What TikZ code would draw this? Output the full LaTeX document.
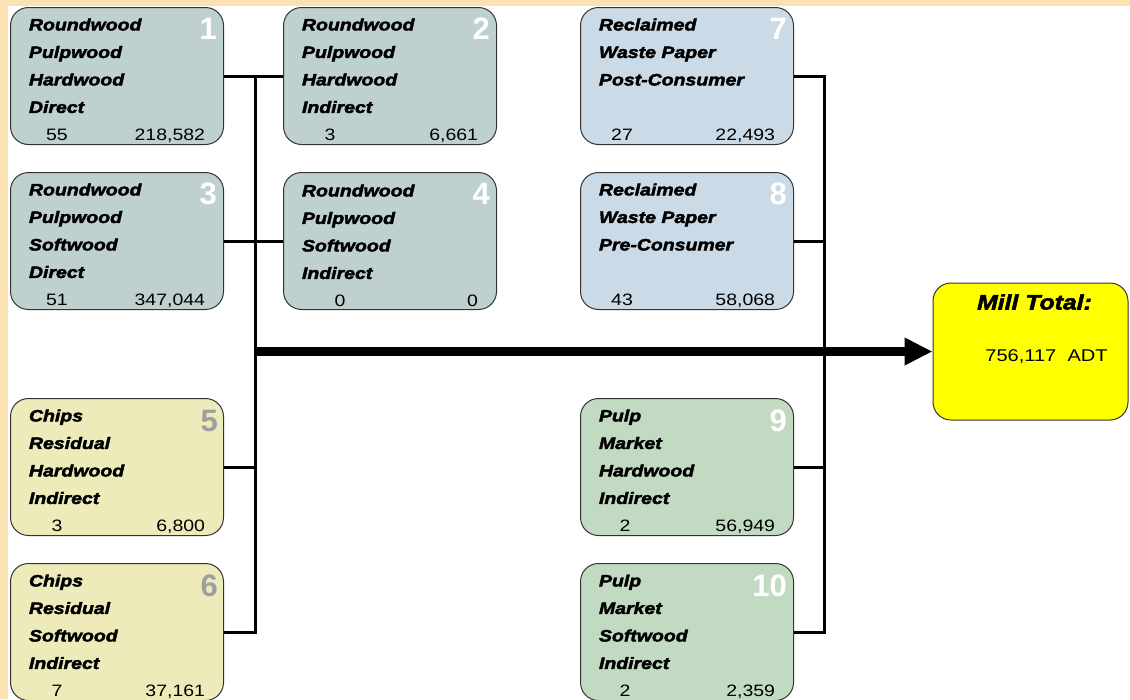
\documentclass[tikz,border=0pt]{standalone}
\usepackage{fontspec}
\setmainfont{Liberation Sans}
\newfontfamily\labelfont[FakeStretch=1.18, BoldItalicFeatures={FakeBold=2.5}]{Liberation Sans}
\usetikzlibrary{arrows.meta,positioning}

\definecolor{bandtan}{RGB}{250,226,178}
\definecolor{rwfill}{RGB}{190,208,208}
\definecolor{wpfill}{RGB}{202,218,230}
\definecolor{chfill}{RGB}{238,235,186}
\definecolor{pmfill}{RGB}{194,218,194}
\definecolor{millyellow}{RGB}{255,255,0}

\begin{document}
\begin{tikzpicture}[x=1pt, y=1pt,
  src/.style={draw=black!80, line width=1pt, rounded corners=18pt, minimum width=213pt, minimum height=137pt, text width=176pt, align=left, inner sep=0pt, font=\labelfont\bfseries\itshape\fontsize{16.5}{27.5}\selectfont, execute at begin node={\rule{0pt}{21pt}}},
  tag/.style={anchor=north east, inner sep=0pt, font=\bfseries\fontsize{31}{31}\selectfont, text=white},
  chiptag/.style={tag, text=black!38},
  link/.style={line width=3pt},
  flow/.style={-{Triangle[length=28pt,width=26pt]}, line width=9pt}
]
\useasboundingbox (0,0) rectangle (1130,-699);
\fill[white] (0,0) rectangle (1130,-699);
\fill[bandtan] (0,0) rectangle (1130,-6);
\fill[bandtan] (0,0) rectangle (8,-699);

% roundwood
\node[src, fill=rwfill, anchor=north west] (rwhd) at (10,-7) {Roundwood\\Pulpwood\\Hardwood\\Direct\\{\mdseries\upshape\makebox[56pt]{55}\hfill 218,582}};
\node[src, fill=rwfill, right=59pt of rwhd] (rwhi) {Roundwood\\Pulpwood\\Hardwood\\Indirect\\{\mdseries\upshape\makebox[56pt]{3}\hfill 6,661\hspace*{10pt}}};
\node[src, fill=rwfill, below=27pt of rwhd] (rwsd) {Roundwood\\Pulpwood\\Softwood\\Direct\\{\mdseries\upshape\makebox[56pt]{51}\hfill 347,044}};
\node[src, fill=rwfill, right=59pt of rwsd] (rwsi) {Roundwood\\Pulpwood\\Softwood\\Indirect\\{\mdseries\upshape\makebox[76pt]{0}\hfill 0\hspace*{30pt}}};

% chips
\node[src, fill=chfill, below=88pt of rwsd] (chhi) {Chips\\Residual\\Hardwood\\Indirect\\{\mdseries\upshape\makebox[56pt]{3}\hfill 6,800\hspace*{10pt}}};
\node[src, fill=chfill, below=27pt of chhi] (chsi) {Chips\\Residual\\Softwood\\Indirect\\{\mdseries\upshape\makebox[56pt]{7}\hfill 37,161\hspace*{10pt}}};

% waste paper
\node[src, fill=wpfill, right=83pt of rwhi] (wppost) {Reclaimed\\Waste Paper\\Post-Consumer\\[27.5pt]{\mdseries\upshape\makebox[46pt]{27}\hfill 22,493\hspace*{10pt}}};
\node[src, fill=wpfill, below=27pt of wppost] (wppre) {Reclaimed\\Waste Paper\\Pre-Consumer\\[27.5pt]{\mdseries\upshape\makebox[46pt]{43}\hfill 58,068\hspace*{6pt}}};

% pulp
\node[src, fill=pmfill, below=88pt of wppre] (pmhi) {Pulp\\Market\\Hardwood\\Indirect\\{\mdseries\upshape\makebox[52pt]{2}\hfill 56,949\hspace*{6pt}}};
\node[src, fill=pmfill, below=27pt of pmhi] (pmsi) {Pulp\\Market\\Softwood\\Indirect\\{\mdseries\upshape\makebox[52pt]{2}\hfill 2,359\hspace*{12pt}}};

% box numbers
\node[tag] (tag1) at ([xshift=-7pt,yshift=-11pt]rwhd.north east) {1};
\node[tag] (tag2) at ([xshift=-7pt,yshift=-11pt]rwhi.north east) {2};
\node[tag] (tag3) at ([xshift=-7pt,yshift=-11pt]rwsd.north east) {3};
\node[tag] (tag4) at ([xshift=-7pt,yshift=-11pt]rwsi.north east) {4};
\node[chiptag] (tag5) at ([xshift=-6pt,yshift=-12pt]chhi.north east) {5};
\node[chiptag] (tag6) at ([xshift=-6pt,yshift=-12pt]chsi.north east) {6};
\node[tag] (tag7) at ([xshift=-7pt,yshift=-11pt]wppost.north east) {7};
\node[tag] (tag8) at ([xshift=-7pt,yshift=-11pt]wppre.north east) {8};
\node[tag] (tag9) at ([xshift=-7pt,yshift=-12pt]pmhi.north east) {9};
\node[tag] (tag10) at ([xshift=-7pt,yshift=-12pt]pmsi.north east) {10};

% total
\node[draw=black!80, line width=1pt, rounded corners=18pt, fill=millyellow, minimum width=195pt, minimum height=137pt] (mill) at (1030.5,-351.5) {};
\node[anchor=base, inner sep=0pt, font=\labelfont\bfseries\itshape\fontsize{21}{21}\selectfont] (milltitle) at ([xshift=4pt,yshift=-27pt]mill.north) {Mill Total:};
\node[anchor=base, inner sep=0pt, font=\labelfont\fontsize{17}{17}\selectfont] (milltons) at ([xshift=16pt,yshift=-79pt]mill.north) {756,117~~ADT};

% connectors
\coordinate[right=31pt of rwhd.east] (ltrunk);
\coordinate[right=30pt of wppost.east] (rtrunk);
\draw[link] (rwhd.east) -- (rwhi.west);
\draw[link] (rwsd.east) -- (rwsi.west);
\draw[link] (ltrunk) |- (chsi.east);
\draw[link] (chhi.east) -- (ltrunk |- chhi.east);
\draw[link] (wppost.east) -- (rtrunk) |- (pmsi.east);
\draw[link] (wppre.east) -- (rtrunk |- wppre.east);
\draw[link] (pmhi.east) -- (rtrunk |- pmhi.east);
\draw[flow] (ltrunk |- mill.west) -- (mill.west);

\end{tikzpicture}
\end{document}
